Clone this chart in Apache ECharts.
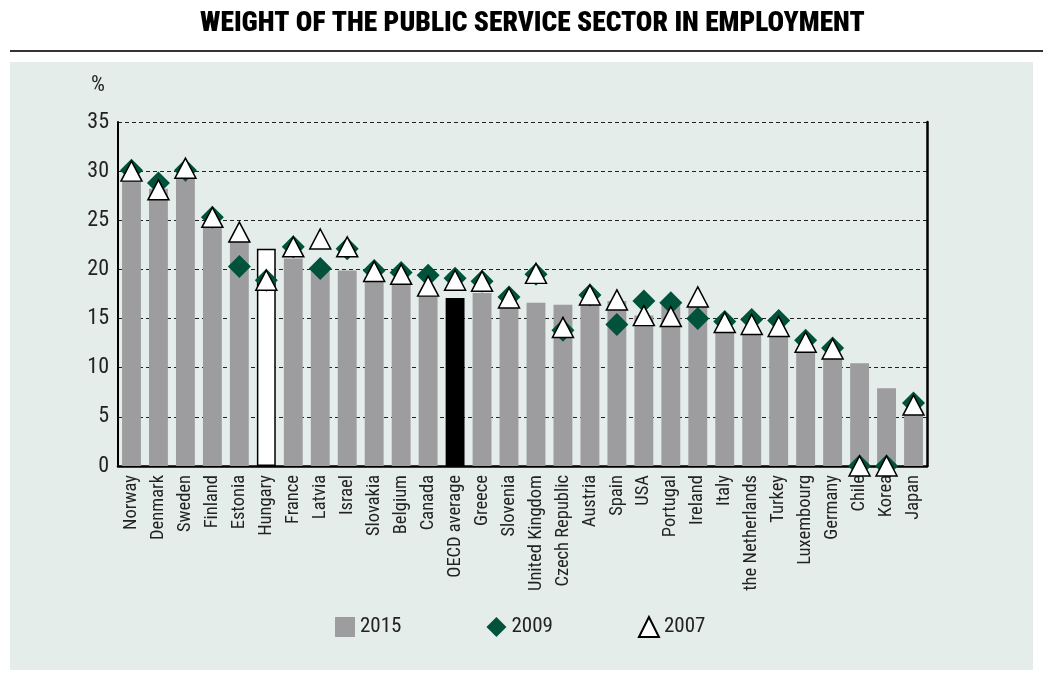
<!DOCTYPE html>
<html><head><meta charset="utf-8">
<script src="https://cdn.jsdelivr.net/npm/echarts@6/dist/echarts.min.js"></script>
<style>html,body{margin:0;padding:0;background:#fff}#c{width:1043px;height:673px}</style>
</head><body><div id="c"></div>
<script>
const categories = ["Norway","Denmark","Sweden","Finland","Estonia","Hungary","France","Latvia","Israel","Slovakia","Belgium","Canada","OECD average","Greece","Slovenia","United Kingdom","Czech Republic","Austria","Spain","USA","Portugal","Ireland","Italy","the Netherlands","Turkey","Luxembourg","Germany","Chile","Korea","Japan"];
const v2015 = [29.1,28.2,29.2,24.3,22.8,22.1,21.1,19.9,19.9,19.2,18.9,17.5,17.1,17.6,16.1,16.6,16.4,16.5,16.8,15.3,16.8,16.2,13.6,13.4,13.5,11.5,10.9,10.45,7.9,5.2];
const v2009 = [30.1,28.8,30.1,25.3,20.3,18.9,22.3,20.1,22.1,19.9,19.7,19.4,19.1,18.8,17.2,19.5,13.8,17.4,14.4,16.8,16.6,15.0,14.7,14.9,14.8,12.8,12.0,0,0,6.4];
const v2007 = [30.0,28.1,30.3,25.3,23.8,18.9,22.3,23.1,22.3,19.8,19.5,18.3,18.9,18.8,17.1,19.6,14.1,17.4,16.9,15.3,15.2,17.2,14.6,14.4,14.2,12.6,11.9,0,0,6.2];
const yTicks = [0,5,10,15,20,25,30,35];

const FONT = '"Liberation Sans Narrow","Arial Narrow","Roboto Condensed",sans-serif';
const barData = v2015.map((v,i)=>{
  const c = categories[i];
  if (c === 'Hungary') return {value:v, itemStyle:{color:'#ffffff', borderColor:'#000', borderWidth:1.5}};
  if (c === 'OECD average') return {value:v, itemStyle:{color:'#000000'}};
  return v;
});

const chart = echarts.init(document.getElementById('c'), null, {renderer:'canvas'});
chart.setOption({
  animation:false,
  backgroundColor:'#ffffff',
  graphic:[
    {type:'rect', z:-10, shape:{x:10,y:62,width:1023,height:608}, style:{fill:'#e4edea'}, silent:true},
    {type:'rect', z:-10, shape:{x:10,y:50,width:1033,height:2}, style:{fill:'#333'}, silent:true},
    {type:'text', left:200, top:10, style:{text:'WEIGHT OF THE PUBLIC SERVICE SECTOR IN EMPLOYMENT', font:'900 27.5px '+FONT, fill:'#000'}},
    {type:'text', left:91, top:74, style:{text:'%', font:'22px '+FONT, fill:'#222'}}
  ],
  legend:{
    left:335, top:616, padding:0, itemGap:85, itemWidth:20, itemHeight:20,
    textStyle:{fontFamily:FONT, fontSize:21, color:'#222'},
    data:[
      {name:'2015', icon:'rect'},
      {name:'2009', icon:'diamond'},
      {name:'2007', icon:'triangle'}
    ]
  },
  grid:{left:118, right:116, top:122, bottom:207},
  xAxis:{
    type:'category', data:categories,
    axisLine:{lineStyle:{color:'#000', width:2.5}},
    axisTick:{show:false},
    axisLabel:{rotate:90, interval:0, fontFamily:FONT, fontSize:18.5, color:'#222', margin:9}
  },
  yAxis:[{
    type:'value', min:0, max:35, interval:5,
    axisLine:{show:true, lineStyle:{color:'#000', width:2}},
    axisTick:{show:false},
    axisLabel:{fontFamily:FONT, fontSize:22, color:'#222', margin:9,
      formatter:(v)=> yTicks.includes(v) ? String(v) : ''},
    splitLine:{show:true, lineStyle:{color:'#222', type:[4,3], width:1}}
  },{
    type:'value', min:0, max:35, interval:5, position:'right',
    axisLine:{show:true, lineStyle:{color:'#000', width:2.5}},
    axisTick:{show:false}, axisLabel:{show:false}, splitLine:{show:false}
  }],
  series:[
    {name:'2015', type:'bar', data:barData, barWidth:'70%', itemStyle:{color:'#9d9d9f'}, z:1},
    {name:'2009', type:'scatter', data:v2009, symbol:'diamond', symbolSize:[23,23], itemStyle:{color:'#00533a', opacity:1}, z:3},
    {name:'2007', type:'scatter', data:v2007, symbol:'triangle', symbolSize:[21,20], itemStyle:{color:'#ffffff', borderColor:'#000', borderWidth:1.5, opacity:1}, z:4}
  ]
});
</script></body></html>
